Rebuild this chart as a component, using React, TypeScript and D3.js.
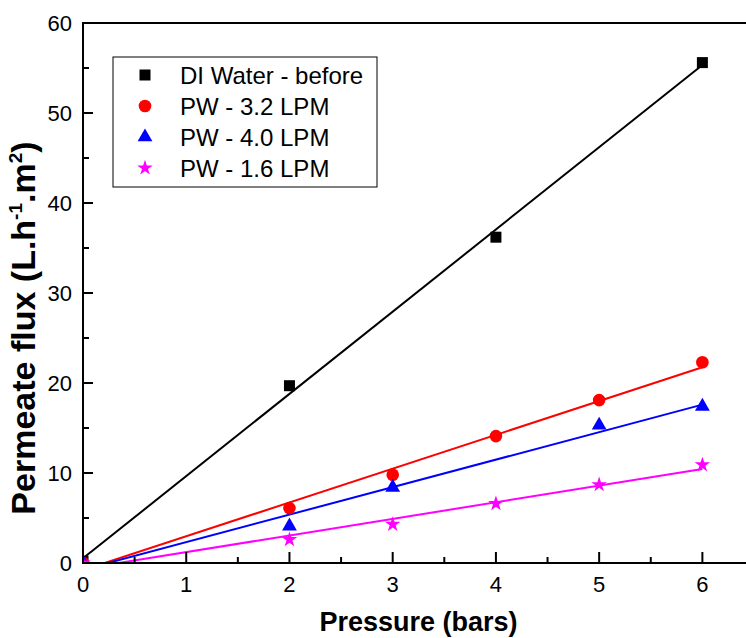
import React, { useEffect, useRef } from 'react'
import * as d3 from 'd3'

// pressure (bars) and permeate flux readings
const waterX = [0, 2, 4, 6]
const waterY = [0.2, 19.7, 36.2, 55.6]
const pw32X = [0, 2, 3, 4, 5, 6]
const pw32Y = [0, 6.1, 9.8, 14.1, 18.1, 22.3]
const pw40X = [0, 2, 3, 5, 6]
const pw40Y = [0, 4.1, 8.4, 15.3, 17.4]
const pw16X = [0, 2, 3, 4, 5, 6]
const pw16Y = [0, 2.6, 4.3, 6.6, 8.7, 10.9]

const seriesNames = ['DI Water - before', 'PW - 3.2 LPM', 'PW - 4.0 LPM', 'PW - 1.6 LPM']
const colors = ['#000000', '#ff0000', '#0000ff', '#ff00ff']
const xTicks = [0, 1, 2, 3, 4, 5, 6]
const yTicks = [0, 10, 20, 30, 40, 50, 60]

const fit = (xs: number[], ys: number[]) => {
  const mx = d3.mean(xs) as number
  const my = d3.mean(ys) as number
  let sxy = 0, sxx = 0
  xs.forEach((x, i) => { sxy += (x - mx) * (ys[i] - my); sxx += (x - mx) * (x - mx) })
  const slope = sxy / sxx
  return { slope, intercept: my - slope * mx }
}

function App() {
  const ref = useRef<SVGSVGElement>(null)

  useEffect(() => {
    const svg = d3.select(ref.current)
    svg.selectAll('*').remove()

    const left = 83, top = 23, right = 754, bottom = 563
    const x = d3.scaleLinear().domain([0, 6.5]).range([left, right])
    const y = d3.scaleLinear().domain([0, 60]).range([bottom, top])
    const font = '"Liberation Sans", Arial, sans-serif'

    svg.append('clipPath').attr('id', 'plotclip')
      .append('rect').attr('x', left).attr('y', top).attr('width', right - left).attr('height', bottom - top)

    const series = [
      { xs: waterX, ys: waterY, sym: d3.symbolSquare, size: 121 },
      { xs: pw32X, ys: pw32Y, sym: d3.symbolCircle, size: 125 },
      { xs: pw40X, ys: pw40Y, sym: d3.symbolTriangle, size: 95 },
      { xs: pw16X, ys: pw16Y, sym: d3.symbolStar, size: 75 },
    ]

    const plot = svg.append('g').attr('clip-path', 'url(#plotclip)')

    // fitted lines
    series.forEach((s, i) => {
      const f = fit(s.xs, s.ys)
      plot.append('line')
        .attr('x1', x(0)).attr('y1', y(f.intercept))
        .attr('x2', x(6)).attr('y2', y(f.slope * 6 + f.intercept))
        .attr('stroke', colors[i])
        .attr('stroke-width', 2)
    })

    series.forEach((s, i) => {
      plot.selectAll(null)
        .data(s.xs.map((v, j) => [v, s.ys[j]]))
        .enter()
        .append('path')
        .attr('d', d3.symbol().type(s.sym).size(s.size)())
        .attr('transform', d => `translate(${x(d[0])},${y(d[1])})`)
        .attr('fill', colors[i])
    })

    // frame
    svg.append('rect')
      .attr('x', left).attr('y', top).attr('width', right - left).attr('height', bottom - top)
      .attr('fill', 'none').attr('stroke', '#000').attr('stroke-width', 2)

    // x ticks (inward)
    const xMinor = d3.range(0.5, 6.6, 1)
    svg.selectAll(null).data(xTicks).enter().append('line')
      .attr('x1', d => x(d)).attr('x2', d => x(d))
      .attr('y1', bottom).attr('y2', bottom - 11)
      .attr('stroke', '#000').attr('stroke-width', 2)
    svg.selectAll(null).data(xMinor).enter().append('line')
      .attr('x1', d => x(d)).attr('x2', d => x(d))
      .attr('y1', bottom).attr('y2', bottom - 6)
      .attr('stroke', '#000').attr('stroke-width', 2)
    svg.selectAll(null).data(xTicks).enter().append('text')
      .attr('x', d => x(d)).attr('y', 592)
      .attr('text-anchor', 'middle')
      .attr('font-family', font).attr('font-size', 22)
      .text(d => d)

    // y ticks
    const yMinor = d3.range(5, 60, 10)
    svg.selectAll(null).data(yTicks).enter().append('line')
      .attr('x1', left).attr('x2', left + 10)
      .attr('y1', d => y(d)).attr('y2', d => y(d))
      .attr('stroke', '#000').attr('stroke-width', 2)
    svg.selectAll(null).data(yMinor).enter().append('line')
      .attr('x1', left).attr('x2', left + 6)
      .attr('y1', d => y(d)).attr('y2', d => y(d))
      .attr('stroke', '#000').attr('stroke-width', 2)
    svg.selectAll(null).data(yTicks).enter().append('text')
      .attr('x', 72).attr('y', d => y(d) + 8)
      .attr('text-anchor', 'end')
      .attr('font-family', font).attr('font-size', 22)
      .text(d => d)

    // axis titles
    svg.append('text')
      .attr('x', (left + right) / 2).attr('y', 631)
      .attr('text-anchor', 'middle')
      .attr('font-family', font).attr('font-size', 27).attr('font-weight', 'bold')
      .text('Pressure (bars)')

    const yt = svg.append('text')
      .attr('transform', 'translate(35,328) rotate(-90)')
      .attr('text-anchor', 'middle')
      .attr('font-family', font).attr('font-size', 34).attr('font-weight', 'bold')
    yt.append('tspan').text('Permeate flux (L.h')
    yt.append('tspan').attr('dy', -13).attr('font-size', 19).text('-1')
    yt.append('tspan').attr('dy', 13).text('.m')
    yt.append('tspan').attr('dy', -13).attr('font-size', 19).text('2')
    yt.append('tspan').attr('dy', 13).text(')')

    // legend
    svg.append('rect')
      .attr('x', 113).attr('y', 57).attr('width', 264).attr('height', 130)
      .attr('fill', '#fff').attr('stroke', '#000').attr('stroke-width', 1)
    const rows = [75, 106, 137, 168]
    series.forEach((s, i) => {
      svg.append('path')
        .attr('d', d3.symbol().type(s.sym).size(s.size)())
        .attr('transform', `translate(145,${rows[i]})`)
        .attr('fill', colors[i])
      svg.append('text')
        .attr('x', 180).attr('y', rows[i] + 8.5)
        .attr('font-family', font).attr('font-size', 24)
        .text(seriesNames[i])
    })
  }, [])

  return (
    <svg ref={ref} width={746} height={638}
      style={{ position: 'absolute', left: 0, top: 0, background: '#fff' }}></svg>
  )
}

export default App
